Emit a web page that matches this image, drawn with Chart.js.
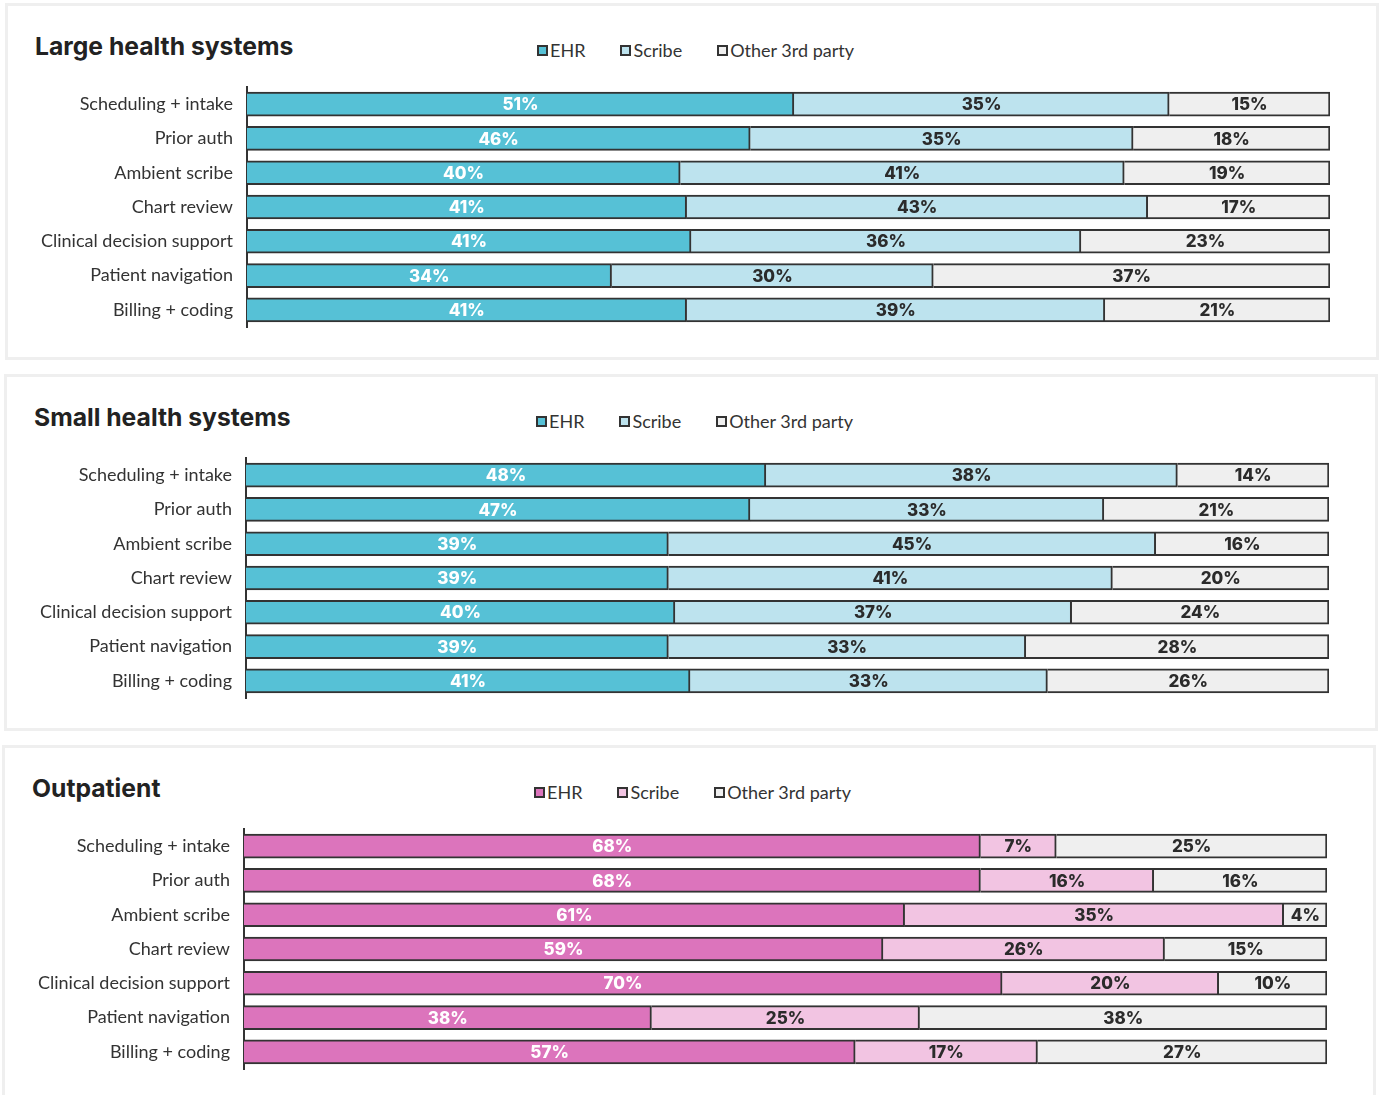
<!DOCTYPE html>
<html><head><meta charset="utf-8">
<script src="https://cdn.jsdelivr.net/npm/chart.js@4.4.0/dist/chart.umd.min.js"></script>
<style>
html,body{margin:0;padding:0;background:#fff;width:1379px;height:1095px;overflow:hidden;position:relative;font-family:Lato,sans-serif;}
.panel{position:absolute;border:3px solid #efefef;box-sizing:border-box;width:1374px;height:357px;}
.cw{position:absolute;width:1379px;height:357px;}
.title{position:absolute;font-family:Inter,sans-serif;font-weight:700;font-size:24.7px;line-height:25px;color:#222;white-space:nowrap;}
.legend{position:absolute;display:flex;font-size:18px;line-height:18px;color:#333;align-items:center;white-space:nowrap;}
.legend .it{display:flex;align-items:center;margin-right:35px;}
.legend .bx{width:7px;height:7px;border:2px solid #333;margin-right:2px;}
</style></head>
<body>
<script>
const categories = ['Scheduling + intake','Prior auth','Ambient scribe','Chart review','Clinical decision support','Patient navigation','Billing + coding'];
const seriesNames = ['EHR','Scribe','Other 3rd party'];
const panelTitles = ['Large health systems','Small health systems','Outpatient'];

const largeEHR    = [51,46,40,41,41,34,41];
const largeScribe = [35,35,41,43,36,30,39];
const largeOther  = [15,18,19,17,23,37,21];

const smallEHR    = [48,47,39,39,40,39,41];
const smallScribe = [38,33,45,41,37,33,33];
const smallOther  = [14,21,16,20,24,28,26];

const outEHR      = [68,68,61,59,70,38,57];
const outScribe   = [7,16,35,26,20,25,17];
const outOther    = [25,16,4,15,10,38,27];

const tealColors = ['#56C1D6','#BDE3EE','#EFEFEF'];
const pinkColors = ['#DC74BC','#F2C4E2','#EFEFEF'];

const panels = [
  {title: panelTitles[0], vals:[largeEHR,largeScribe,largeOther], colors:tealColors, dx:0, dy:0},
  {title: panelTitles[1], vals:[smallEHR,smallScribe,smallOther], colors:tealColors, dx:-1, dy:371},
  {title: panelTitles[2], vals:[outEHR,outScribe,outOther], colors:pinkColors, dx:-3, dy:742}
];

const valueLabels = {
  id:'valueLabels',
  afterDatasetsDraw(chart){
    const ctx = chart.ctx;
    chart.data.datasets.forEach((ds,di)=>{
      const meta = chart.getDatasetMeta(di);
      meta.data.forEach((bar,i)=>{
        const p = bar.getProps(['x','base','y'],true);
        const cx = (p.x + p.base)/2;
        ctx.save();
        ctx.font = '800 17px Inter, sans-serif';
        ctx.fillStyle = di===0 ? '#ffffff' : '#2b2b2b';
        ctx.textAlign = 'center';
        ctx.textBaseline = 'middle';
        ctx.fillText(ds.raw[i] + '%', cx, p.y + 1);
        ctx.restore();
      });
    });
  }
};

panels.forEach(pn=>{
  const box = document.createElement('div');
  box.className='panel';
  box.style.left = (5+pn.dx)+'px';
  box.style.top = (3+pn.dy)+'px';
  document.body.appendChild(box);

  const t = document.createElement('div');
  t.className='title';
  t.textContent = pn.title;
  t.style.left = (35+pn.dx)+'px';
  t.style.top = (46+pn.dy-12)+'px';
  document.body.appendChild(t);

  const lg = document.createElement('div');
  lg.className='legend';
  lg.style.left = (537+pn.dx)+'px';
  lg.style.top = (51+pn.dy-10)+'px';
  seriesNames.forEach((n,k)=>{
    const it = document.createElement('div'); it.className='it';
    const bx = document.createElement('div'); bx.className='bx'; bx.style.background = pn.colors[k];
    const tx = document.createElement('span'); tx.textContent = n;
    it.appendChild(bx); it.appendChild(tx); lg.appendChild(it);
  });
  document.body.appendChild(lg);

  const wrap = document.createElement('div');
  wrap.className='cw';
  wrap.style.left = pn.dx+'px';
  wrap.style.top = (3+pn.dy)+'px';
  const cv = document.createElement('canvas');
  wrap.appendChild(cv);
  document.body.appendChild(wrap);

  const sums = categories.map((_,i)=>pn.vals.reduce((s,a)=>s+a[i],0));
  const datasets = pn.vals.map((arr,k)=>({
    label: seriesNames[k],
    data: arr.map((v,i)=>v/sums[i]*100),
    raw: arr,
    backgroundColor: pn.colors[k],
    borderColor: '#333333',
    borderWidth: 2,
    barThickness: 24
  }));

  new Chart(cv, {
    type:'bar',
    data:{labels:categories, datasets},
    options:{
      indexAxis:'y',
      responsive:true,
      maintainAspectRatio:false,
      animation:false,
      layout:{padding:{top:84,right:49,bottom:33,left:0}},
      plugins:{legend:{display:false},title:{display:false},tooltip:{enabled:false}},
      scales:{
        x:{stacked:true,min:0,max:100,display:false},
        y:{stacked:true,
           grid:{display:false},
           border:{display:true,color:'#333333',width:2},
           ticks:{color:'#333333',font:{family:'Lato',size:18},padding:6},
           afterFit(s){s.width=247;}
        }
      }
    },
    plugins:[valueLabels]
  });
});
</script>
</body></html>
